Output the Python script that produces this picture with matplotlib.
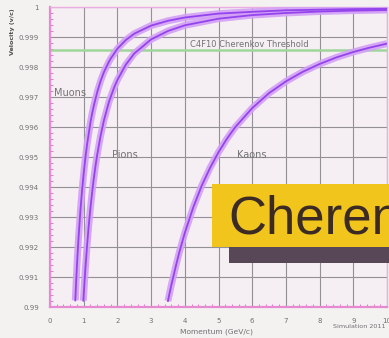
import matplotlib
matplotlib.use("Agg")
import matplotlib.pyplot as plt
from matplotlib.patches import Rectangle
from matplotlib.ticker import MultipleLocator

# Momentum (GeV/c) and velocity (beta = v/c) for each particle species
muon_p = [0.75, 0.775, 0.8, 0.825, 0.85, 0.9, 0.95, 1.0, 1.05, 1.1, 1.2, 1.25, 1.3,
          1.4, 1.5, 1.6, 1.75, 1.8, 2.0, 2.25, 2.5, 3.0, 3.5,
          4.0, 5.0, 6.0, 7.0, 8.0, 9.0, 10.0]
muon_beta = [0.99022, 0.99083, 0.99139, 0.99190, 0.99236, 0.99318, 0.99387, 0.99446,
             0.99497, 0.99542, 0.99615, 0.99645, 0.99671, 0.99716, 0.99753, 0.99783,
             0.99818, 0.99828, 0.99861, 0.99890, 0.99911, 0.99938, 0.99954,
             0.99965, 0.99978, 0.99984, 0.99989, 0.99991, 0.99993, 0.99994]

pion_p = [0.99, 1.0, 1.025, 1.05, 1.1, 1.15, 1.2, 1.25, 1.3, 1.35, 1.4, 1.5, 1.6,
          1.75, 1.9, 2.0, 2.25, 2.5, 3.0, 3.5,
          4.0, 5.0, 6.0, 7.0, 8.0, 9.0, 10.0]
pion_beta = [0.99021, 0.99040, 0.99086, 0.99128, 0.99205, 0.99272, 0.99330, 0.99382,
             0.99429, 0.99470, 0.99507, 0.99570, 0.99622, 0.99684, 0.99731, 0.99757,
             0.99808, 0.99845, 0.99892, 0.99920,
             0.99939, 0.99961, 0.99973, 0.99980, 0.99985, 0.99988, 0.99990]

kaon_p = [3.5, 3.55, 3.6, 3.75, 3.85, 4.0, 4.25, 4.5, 4.75, 5.0, 5.25, 5.5, 6.0,
          6.5, 7.0, 7.5, 8.0, 8.5, 9.0, 9.5, 10.0]
kaon_beta = [0.99020, 0.99047, 0.99073, 0.99144, 0.99188, 0.99247, 0.99332, 0.99404,
             0.99464, 0.99516, 0.99561, 0.99600, 0.99663, 0.99713, 0.99752, 0.99784,
             0.99810, 0.99832, 0.99850, 0.99865, 0.99878]

threshold_beta = 0.99857
threshold_label = "C4F10 Cherenkov Threshold"

x_ticks = list(range(0, 11))
y_ticks = [0.99, 0.991, 0.992, 0.993, 0.994, 0.995, 0.996, 0.997, 0.998, 0.999, 1.0]
y_tick_labels = ["0.99", "0.991", "0.992", "0.993", "0.994", "0.995", "0.996",
                 "0.997", "0.998", "0.999", "1"]

W, H = 389, 338
fig = plt.figure(figsize=(W / 100, H / 100), dpi=100, facecolor="#f4f1f1")
ax = fig.add_axes([50 / W, 31 / H, 337 / W, 300 / H])
ax.set_facecolor("#f5eff3")

ax.set_xlim(0, 10)
ax.set_ylim(0.99, 1.0)
ax.set_xticks(x_ticks)
ax.set_yticks(y_ticks)
ax.set_yticklabels(y_tick_labels)
ax.xaxis.set_minor_locator(MultipleLocator(0.2))
ax.yaxis.set_minor_locator(MultipleLocator(0.0002))
ax.grid(True, which="major", color="#949196", lw=0.8)
ax.tick_params(which="major", length=0, labelsize=5, labelcolor="#707070", pad=8)
ax.tick_params(which="minor", length=2, color="#e07cc8", width=0.7, direction="in")

pink = "#e68ad2"
for side in ("left", "bottom"):
    ax.spines[side].set_color(pink)
    ax.spines[side].set_linewidth(1.6)
for side in ("top", "right"):
    ax.spines[side].set_color("#ecaee0")
    ax.spines[side].set_linewidth(1.0)

# Cherenkov threshold of the radiator gas
ax.axhline(threshold_beta, color="#9fd69a", lw=1.8, zorder=2)
ax.text(5.9, threshold_beta + 0.00002, threshold_label, fontsize=6,
        color="#737373", ha="center", va="bottom", zorder=3)

# Particle velocity curves: soft band with a darker core
for p, b in ((muon_p, muon_beta), (pion_p, pion_beta), (kaon_p, kaon_beta)):
    ax.plot(p, b, color="#d3a0f6", lw=5, solid_capstyle="butt", zorder=3, alpha=0.9)
    ax.plot(p, b, color="#9444ec", lw=1.3, zorder=4)

ax.text(0.12, 0.99713, "Muons", fontsize=7, color="#737373", ha="left", va="center")
ax.text(1.85, 0.99507, "Pions", fontsize=7, color="#737373", ha="left", va="center")
ax.text(5.55, 0.99507, "Kaons", fontsize=7, color="#737373", ha="left", va="center")

fig.text(13 / W, 1 - 8 / H, "Velocity (v/c)", rotation=90, fontsize=4.6,
         color="#505050", ha="center", va="top", fontweight="bold")
fig.text(217 / W, 1 - 332 / H, "Momentum (GeV/c)", fontsize=5.4, color="#707070",
         ha="center", va="center")
fig.text(386 / W, 1 - 326 / H, "Simulation 2011", fontsize=4.6, color="#707070",
         ha="right", va="center")

# Title banner
fig.patches.append(Rectangle((229 / W, (H - 263) / H), 0.6, 16 / H,
                             transform=fig.transFigure, facecolor="#584857",
                             edgecolor="none", zorder=5))
fig.patches.append(Rectangle((212 / W, (H - 247) / H), 0.6, 63 / H,
                             transform=fig.transFigure, facecolor="#f1c51c",
                             edgecolor="none", zorder=6))
fig.text(228 / W, (H - 233) / H, "Cherenkov", fontsize=38, color="#3b2b24",
         family="Liberation Sans", ha="left", va="baseline", zorder=7)

fig.savefig("out.png", dpi=100, facecolor=fig.get_facecolor())
